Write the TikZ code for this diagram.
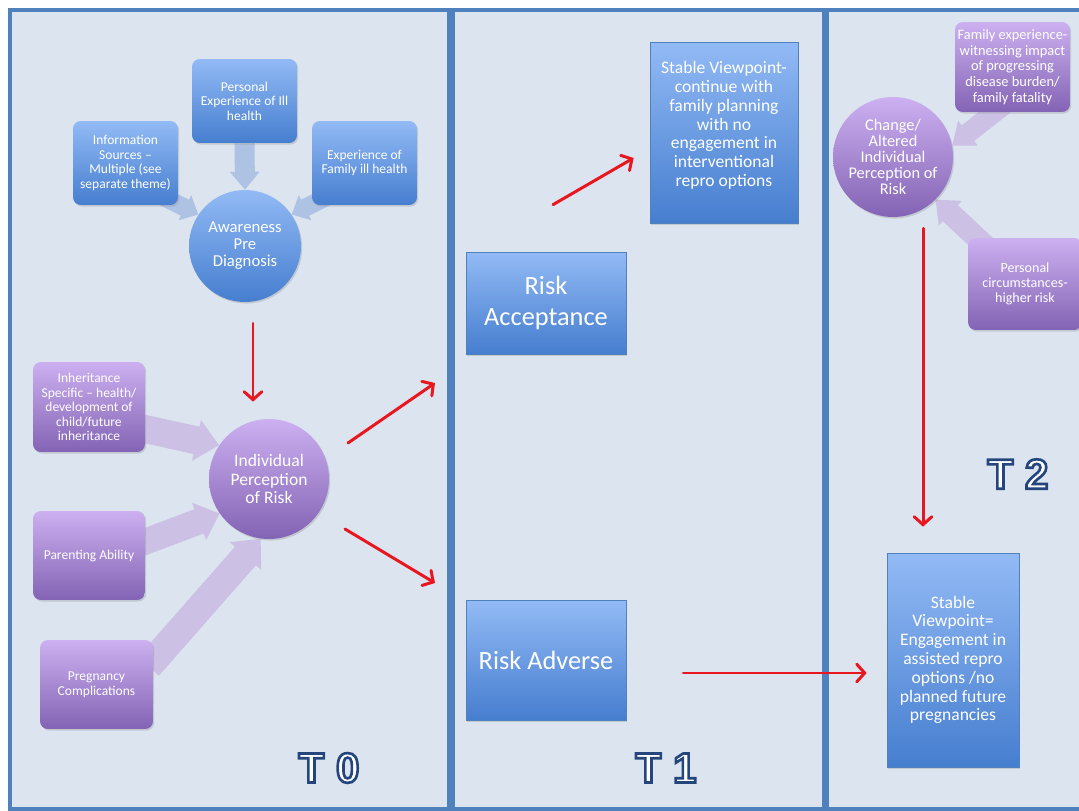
\documentclass[tikz,border=0pt]{standalone}
\usepackage{fontspec}
\setmainfont{Carlito}
\newfontfamily\tfont{Liberation Sans}
\usetikzlibrary{calc,shadows,arrows.meta}

\definecolor{panelfill}{RGB}{220,228,240}
\definecolor{panelline}{RGB}{79,129,189}
\definecolor{bluetop}{RGB}{146,186,245}
\definecolor{bluebot}{RGB}{70,126,207}
\definecolor{purptop}{RGB}{204,176,240}
\definecolor{purpbot}{RGB}{131,99,180}
\definecolor{bluearrow}{RGB}{174,194,228}
\definecolor{purparrow}{RGB}{204,192,229}
\definecolor{redline}{RGB}{232,22,30}

\pgfdeclarelayer{bg}
\pgfdeclarelayer{mid}
\pgfsetlayers{bg,mid,main}

% fat block arrow: colour, tail, tip, shaft half width, head half width, head length
\newcommand\blockarrow[6]{%
  \coordinate (ba-h) at ($(#3)!#6!(#2)$);
  \fill[#1] ($(#2)!#4!90:(#3)$) -- ($(ba-h)!#4!-90:(#2)$) -- ($(ba-h)!#5!-90:(#2)$)
    -- (#3) -- ($(ba-h)!#5!90:(#2)$) -- ($(ba-h)!#4!90:(#2)$) -- ($(#2)!#4!-90:(#3)$) -- cycle;
}

% outlined period label: white fill, dark blue stroke (text render mode 2)
\newcommand\tlabel[1]{{\color{white}%
  \special{pdf:literal direct 2 Tr 1.5 w 0.141 0.275 0.490 RG}#1%
  \special{pdf:literal direct 0 Tr}}}

\tikzset{
  softshadow/.style={drop shadow={opacity=0.28,shadow xshift=0.7pt,shadow yshift=-0.9pt}},
  panel/.style={draw=panelline,fill=panelfill,line width=0.08cm},
  bluebox/.style={rectangle,draw=panelline,line width=0.4pt,top color=bluetop,bottom color=bluebot,
    text=white,align=center,inner sep=1pt,softshadow},
  bluernd/.style={rectangle,rounded corners=4.5pt,top color=bluetop,bottom color=bluebot,
    text=white,align=center,inner sep=1pt,softshadow,minimum width=2.1cm,minimum height=1.68cm},
  purprnd/.style={rectangle,rounded corners=4.5pt,top color=purptop,bottom color=purpbot,
    text=white,align=center,inner sep=1pt,softshadow},
  bluecirc/.style={circle,top color=bluetop,bottom color=bluebot,text=white,align=center,
    inner sep=0pt,softshadow},
  purpcirc/.style={circle,top color=purptop,bottom color=purpbot,text=white,align=center,
    inner sep=0pt,softshadow},
  redarrow/.style={draw=redline,line width=1.7pt,line cap=round,
    -{Straight Barb[length=4.5pt,width=10pt,line cap=round]}},
  smalltext/.style={font=\fontsize{7.7}{8.3}\selectfont},
  midtext/.style={font=\fontsize{10}{10.7}\selectfont},
  bigtext/.style={font=\fontsize{15}{18}\selectfont},
  periodtext/.style={font=\tfont\bfseries\fontsize{24}{24}\selectfont,inner sep=0pt},
}

\begin{document}
\begin{tikzpicture}[x=0.02cm,y=-0.02cm]
\useasboundingbox (0,0) rectangle (1079,811);

% three period panels
\begin{pgfonlayer}{bg}
  \fill[white] (0,0) rectangle (1079,811);
  \draw[panel] (10,10) rectangle (449,809);
  \draw[panel] (453,10) rectangle (824,809);
  \draw[panel] (827,10) rectangle (1095,809);
\end{pgfonlayer}

% ---------- T0 ----------
\node[bluernd,smalltext] (pers) at (244.5,101) {Personal\\Experience of Ill\\health};
\node[bluernd,smalltext] (info) at (125.5,163) {Information\\Sources –\\Multiple (see\\separate theme)};
\node[bluernd,smalltext] (famill) at (364.5,163) {Experience of\\Family ill health};
\node[bluecirc,minimum size=2.24cm,font=\fontsize{9.5}{9.7}\selectfont] (aware) at (245,246)
  {Awareness\\Pre\\Diagnosis};

\node[purprnd,smalltext,minimum width=2.24cm,minimum height=1.8cm] (inh) at (89,407)
  {Inheritance\\Specific – health/\\development of\\child/future\\inheritance};
\node[purprnd,smalltext,minimum width=2.24cm,minimum height=1.78cm] (par) at (89,555.5)
  {Parenting Ability};
\node[purprnd,smalltext,minimum width=2.26cm,minimum height=1.78cm] (preg) at (96.5,684.5)
  {Pregnancy\\Complications};
\node[purpcirc,minimum size=2.4cm,font=\fontsize{10}{10.3}\selectfont] (indiv) at (269,479)
  {Individual\\Perception\\of Risk};

\node[periodtext] (tzero) at (329,768) {\tlabel{T 0}};

% ---------- T1 ----------
\node[bluebox,bigtext,minimum width=3.2cm,minimum height=2.04cm] (accept) at (546,303)
  {Risk\\Acceptance};
\node[bluebox,minimum width=2.96cm,minimum height=3.62cm] (stable1) at (724,132.5) {};
\node[midtext,text=white,align=center,inner sep=0pt] (stable1text) at ($(stable1.center)+(0,-7)$)
  {Stable Viewpoint-\\continue with\\family planning\\with no\\engagement in\\interventional\\repro options};
\node[bluebox,bigtext,minimum width=3.2cm,minimum height=2.4cm] (adverse) at (546,660)
  {Risk Adverse};
\node[periodtext] (tone) at (666,768) {\tlabel{T 1}};

% ---------- T2 ----------
\node[purpcirc,minimum size=2.4cm,font=\fontsize{9.3}{9.1}\selectfont] (change) at (893,157)
  {Change/\\Altered\\Individual\\Perception of\\Risk};
\node[purprnd,font=\fontsize{8.2}{8.9}\selectfont,minimum width=2.3cm,minimum height=1.8cm] (famexp)
  at (1012.5,67) {Family experience-\\witnessing impact\\of progressing\\disease burden/\\family fatality};
\node[purprnd,font=\fontsize{8}{8.5}\selectfont,minimum width=2.28cm,minimum height=1.84cm] (perscirc)
  at (1025,284) {Personal\\circumstances-\\higher risk};
\node[bluebox,midtext,minimum width=2.64cm,minimum height=4.28cm] (stable2) at (953,660)
  {Stable\\Viewpoint=\\Engagement in\\assisted repro\\options /no\\planned future\\pregnancies};
\node[periodtext] (ttwo) at (1018,474) {\tlabel{T 2}};

% ---------- influence arrows ----------
\begin{pgfonlayer}{mid}
  \blockarrow{bluearrow}{pers.south}{aware.north}{0.2cm}{0.3cm}{0.36cm}
  \blockarrow{bluearrow}{$(info.south east)+(-18,-10)$}{aware.146}{0.18cm}{0.28cm}{0.3cm}
  \blockarrow{bluearrow}{$(famill.south west)+(18,-10)$}{aware.34}{0.18cm}{0.28cm}{0.3cm}
  \blockarrow{purparrow}{$(inh.east)+(-5,21)$}{indiv.146}{0.28cm}{0.42cm}{0.46cm}
  \blockarrow{purparrow}{$(par.east)+(-5,-12)$}{indiv.215}{0.26cm}{0.4cm}{0.44cm}
  \blockarrow{purparrow}{$(preg.east)+(-5,-18)$}{indiv.262}{0.28cm}{0.42cm}{0.46cm}
  \blockarrow{purparrow}{$(famexp.south west)+(50,-8)$}{change.11}{0.2cm}{0.32cm}{0.4cm}
  \blockarrow{purparrow}{$(perscirc.north west)+(25,15)$}{change.315}{0.22cm}{0.34cm}{0.4cm}
\end{pgfonlayer}

% ---------- pathway arrows ----------
\coordinate (toaccept) at (435,383);
\coordinate (toadverse) at (435,583);
\draw[redarrow] ($(aware.south)+(8,21)$) -- ($(indiv.north)+(-16,-17)$);
\draw[redarrow] ($(indiv.center)+(79,-36)$) -- (toaccept);
\draw[redarrow] ($(indiv.center)+(76,50)$) -- (toadverse);
\draw[redarrow] ($(accept.north)+(7,-47)$) -- ($(stable1.west)+(-16,25.5)$);
\draw[redarrow] ($(adverse.east)+(57,13)$) -- ($(stable2.west)+(-20,13)$);
\draw[redarrow] ($(change.south)+(30,11)$) -- ($(stable2.north)+(-30,-26)$);
\end{tikzpicture}
\end{document}
